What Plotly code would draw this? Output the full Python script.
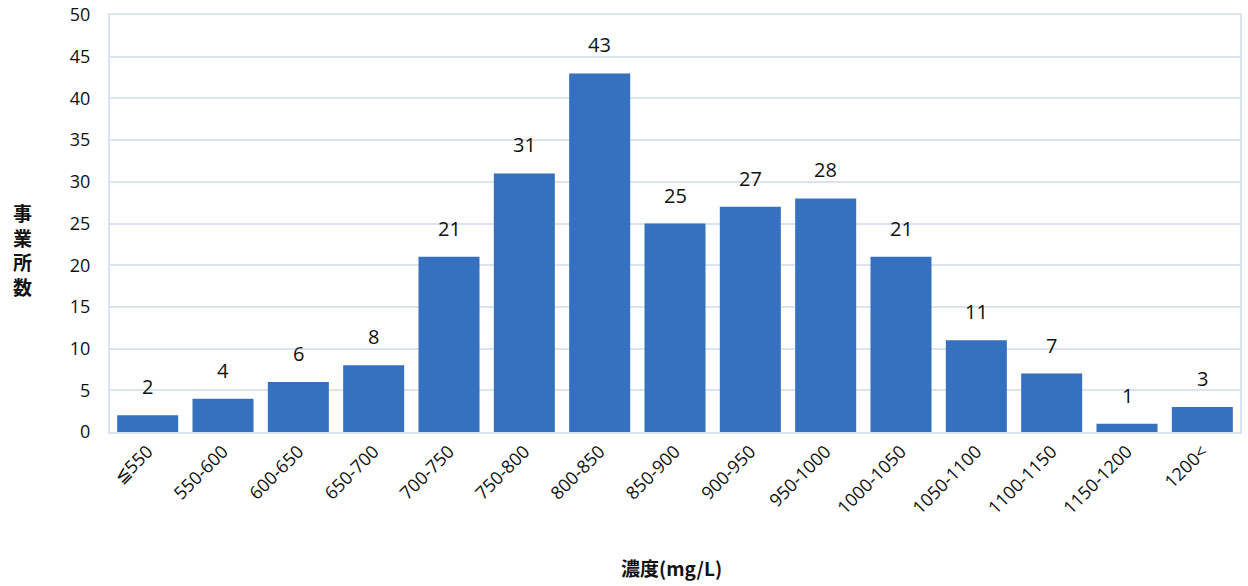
import plotly.graph_objects as go

# Concentration bins and number of facilities in each
categories = ["≦550", "550-600", "600-650", "650-700", "700-750", "750-800", "800-850",
              "850-900", "900-950", "950-1000", "1000-1050", "1050-1100", "1100-1150",
              "1150-1200", "1200<"]
counts = [2, 4, 6, 8, 21, 31, 43, 25, 27, 28, 21, 11, 7, 1, 3]
y_ticks = [0, 5, 10, 15, 20, 25, 30, 35, 40, 45, 50]

LATIN = "'Open Sans', Lato, sans-serif"
CJK = "'Noto Sans CJK JP', sans-serif"
GRID = "#d9e3f1"

fig = go.Figure()
fig.add_trace(go.Bar(
    x=categories,
    y=counts,
    marker=dict(color="#3571be", line=dict(width=0)),
    hoverinfo="x+y",
))

# Value labels above each bar
for c, v in zip(categories, counts):
    fig.add_annotation(x=c, y=v, text=str(v), showarrow=False, yanchor="bottom",
                       yshift=13, font=dict(family=LATIN, size=20, color="#111111"))

# Axis titles
fig.add_annotation(text="<b>事<br>業<br>所<br>数</b>", xref="paper", yref="paper",
                   x=-0.077, y=0.437, showarrow=False, xanchor="center", yanchor="middle",
                   font=dict(family=CJK, size=19, color="#111111"), align="center")
fig.add_annotation(text="<b>濃度(mg/L)</b>", xref="paper", yref="paper",
                   x=0.497, y=-0.325, showarrow=False, xanchor="center", yanchor="middle",
                   font=dict(family=CJK, size=19, color="#111111"))

fig.update_layout(
    width=1248, height=586,
    margin=dict(l=110, r=8, t=15, b=154, autoexpand=False),
    paper_bgcolor="white", plot_bgcolor="white",
    bargap=0.19,
    showlegend=False,
    xaxis=dict(
        type="category", tickangle=-45, automargin=False,
        tickfont=dict(family=LATIN, size=18, color="#111111"),
        showgrid=False, showline=True, linecolor=GRID, linewidth=2, mirror=True,
        ticks="",
    ),
    yaxis=dict(
        range=[0, 50], tickvals=y_ticks, automargin=False,
        tickfont=dict(family=LATIN, size=18, color="#111111"),
        showgrid=True, gridcolor=GRID, gridwidth=2,
        showline=True, linecolor=GRID, linewidth=2, mirror=True,
        zeroline=False, ticks="", ticklabelstandoff=14,
        ticklabeloverflow="allow",
    ),
)

fig.write_html("out.html")
